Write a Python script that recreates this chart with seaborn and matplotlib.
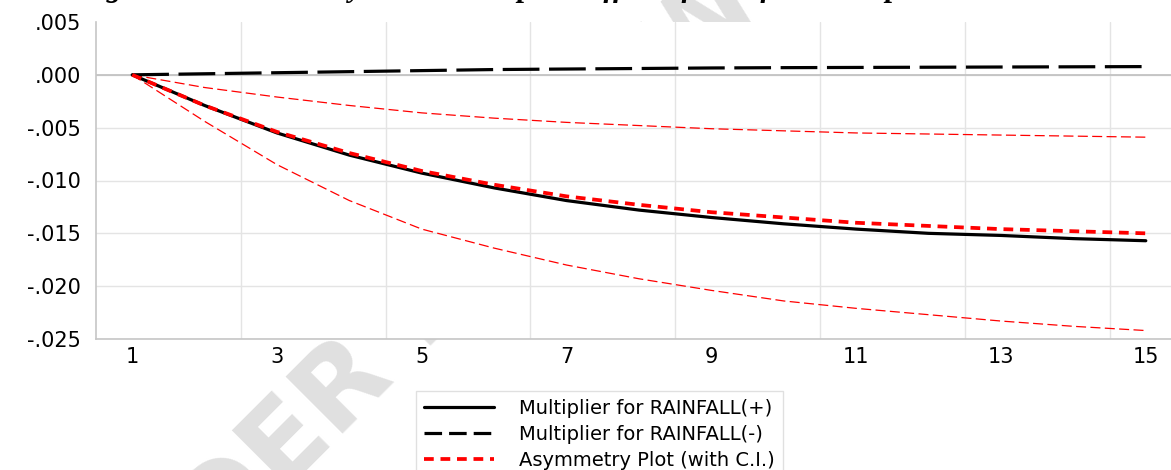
import matplotlib
matplotlib.use("Agg")
import matplotlib.pyplot as plt
import numpy as np
import pandas as pd
import seaborn as sns
from matplotlib.lines import Line2D
from matplotlib.ticker import FixedLocator, FuncFormatter

# Dynamic multipliers by horizon
horizon = list(range(1, 16))
mult_pos = [0.0, -0.0029, -0.0055, -0.0076, -0.0093, -0.0107, -0.0119, -0.0128,
            -0.0135, -0.0141, -0.0146, -0.0150, -0.0152, -0.0155, -0.0157]
mult_neg = [0.0, 0.0001, 0.0002, 0.0003, 0.0004, 0.0005, 0.00055, 0.0006,
            0.00065, 0.00068, 0.0007, 0.00072, 0.00074, 0.00076, 0.00078]
asymmetry = [0.0, -0.0029, -0.0054, -0.0074, -0.0091, -0.0104, -0.0115, -0.0123,
             -0.0130, -0.0135, -0.0140, -0.0143, -0.0146, -0.0148, -0.0150]
ci_upper = [0.0, -0.0012, -0.0021, -0.0029, -0.0036, -0.0041, -0.0045, -0.0048,
            -0.0051, -0.0053, -0.0055, -0.0056, -0.0057, -0.0058, -0.0059]
ci_lower = [0.0, -0.0044, -0.0085, -0.0119, -0.0146, -0.0164, -0.0180, -0.0193,
            -0.0204, -0.0214, -0.0221, -0.0227, -0.0233, -0.0238, -0.0242]

xtick_values = [1, 3, 5, 7, 9, 11, 13, 15]
ytick_values = [0.005, 0.0, -0.005, -0.010, -0.015, -0.020, -0.025]
legend_labels = ["Multiplier for RAINFALL(+)",
                 "Multiplier for RAINFALL(-)",
                 "Asymmetry Plot (with C.I.)"]
title_text = ("Figure 4.10:" + " " * 12 +
              "Dynamic Multiplier Effect of Rainfall on Dependent Variable")
watermark_text = "UNDER REVIEW"

df = pd.DataFrame({
    "horizon": horizon,
    "pos": mult_pos,
    "neg": mult_neg,
    "asym": asymmetry,
    "upper": ci_upper,
    "lower": ci_lower,
})

sns.set_theme(style="white")
plt.rcParams["font.family"] = ["DejaVu Sans"]
plt.rcParams["text.color"] = "black"

W, H = 1171, 470
fig = plt.figure(figsize=(W / 100, H / 100), dpi=100)
fig.patch.set_facecolor("white")

# plot area in pixel terms
left_px, right_px, top_px, bottom_px = 96, 1182, 22, 339
ax = fig.add_axes([left_px / W, 1 - bottom_px / H,
                   (right_px - left_px) / W, (bottom_px - top_px) / H])
ax.set_facecolor("white")

RED = "#ff0000"
thin_dash = (0, (8, 3.5))

sns.lineplot(data=df, x="horizon", y="upper", ax=ax, color=RED,
             linewidth=0.9, linestyle=thin_dash, zorder=3)
sns.lineplot(data=df, x="horizon", y="lower", ax=ax, color=RED,
             linewidth=0.9, linestyle=thin_dash, zorder=3)
sns.lineplot(data=df, x="horizon", y="neg", ax=ax, color="black",
             linewidth=2.3, linestyle=(0, (11.5, 3)), zorder=4)
sns.lineplot(data=df, x="horizon", y="pos", ax=ax, color="black",
             linewidth=2.3, zorder=4)
sns.lineplot(data=df, x="horizon", y="asym", ax=ax, color=RED,
             linewidth=2.7, linestyle=(0, (2.6, 1.8)), zorder=5)

ax.set_xlim(0.5, 15.5)
ax.set_ylim(-0.025, 0.005)
ax.set_xlabel("")
ax.set_ylabel("")

ax.xaxis.set_major_locator(FixedLocator(xtick_values))
ax.yaxis.set_major_locator(FixedLocator(ytick_values))


def fmt_y(v, pos):
    if abs(v) < 1e-12:
        v = 0.0
    return f"{v:.3f}".replace("0.", ".", 1)


ax.yaxis.set_major_formatter(FuncFormatter(fmt_y))
ax.tick_params(axis="both", which="both", length=0)
ax.tick_params(axis="y", pad=11, labelsize=15, labelcolor="black")
ax.tick_params(axis="x", pad=6, labelsize=15, labelcolor="black")

# grid: light lines, darker zero line
for yv in ytick_values[1:]:
    ax.axhline(yv, color="#e4e4e4", linewidth=1.0, zorder=1)
ax.axhline(0.0, color="#bfbfbf", linewidth=1.2, zorder=2)
for xv in np.arange(2.5, 15.5, 2.0):
    ax.axvline(xv, color="#e4e4e4", linewidth=1.0, zorder=1)

for side in ["top", "right"]:
    ax.spines[side].set_visible(False)
for side in ["left", "bottom"]:
    ax.spines[side].set_color("#c6c6c6")
    ax.spines[side].set_linewidth(1.2)

# legend below the plot
handles = [
    Line2D([], [], color="black", linewidth=2.3),
    Line2D([], [], color="black", linewidth=2.3, linestyle=(0, (5.5, 2.2))),
    Line2D([], [], color=RED, linewidth=2.7, linestyle=(0, (2.6, 1.8))),
]
leg = fig.legend(handles, legend_labels, loc="upper left",
                 bbox_to_anchor=(416 / W, 1 - 391 / H),
                 frameon=True, fancybox=False, fontsize=14,
                 handlelength=3.6, handletextpad=1.3, labelspacing=0.36,
                 borderpad=0.4, borderaxespad=0.0)
leg.get_frame().set_edgecolor("#d9d9d9")
leg.get_frame().set_linewidth(1.0)
leg.get_frame().set_facecolor("white")
for t in leg.get_texts():
    t.set_color("black")

# title sitting at the very top edge
fig.text(78 / W, 1 + 4 / H, title_text, family="Liberation Serif",
         fontweight="bold", fontstyle="italic", fontsize=22,
         ha="left", va="baseline", color="black")

# faint watermark behind the plot area
fig.text(88 / W, 1 - 690 / H, watermark_text, rotation=45,
         rotation_mode="anchor", ha="left", va="baseline",
         fontsize=80, fontweight="bold", color="#e0e0e0", zorder=-5)

fig.savefig("out.png", dpi=100, facecolor="white")
